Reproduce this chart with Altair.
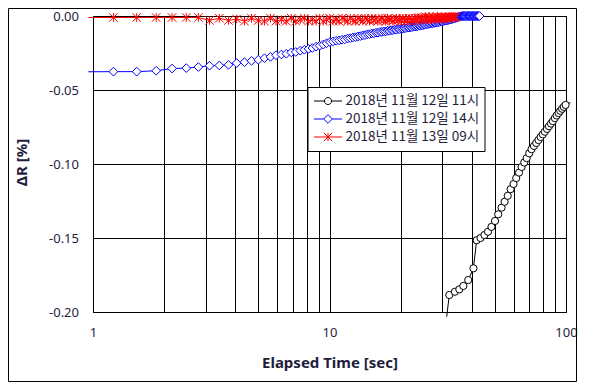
import altair as alt
import pandas as pd

SERIES = ["2018년 11월 12일 11시", "2018년 11월 12일 14시", "2018년 11월 13일 09시"]
COLORS = ["#000000", "#0000ff", "#ff0000"]

# series 1 (black, circles)
black_t = [31.3, 32.1, 33.9, 35.4, 36.8, 38.6, 40.6,
           41.9, 43.5, 45.2, 46.8, 48.4, 50.1, 51.7, 53.4, 55.0,
           56.7, 58.3, 60.0, 61.6, 63.3, 64.9, 66.6, 68.2, 69.9, 71.5,
           73.2, 74.8, 76.5, 78.1, 79.8, 81.4, 83.1, 84.7, 86.4, 88.0,
           89.7, 91.3, 93.0, 94.6, 96.3, 97.9, 99.6, 104.5]
black_v = [-0.2032, -0.1885, -0.1863, -0.1847, -0.1824, -0.1784, -0.1705,
           -0.1515, -0.1500, -0.1480, -0.1458, -0.1425, -0.1385, -0.1340, -0.1295, -0.1255,
           -0.1215, -0.1170, -0.1135, -0.1095, -0.1058, -0.1020, -0.0990, -0.0960, -0.0928, -0.0900,
           -0.0878, -0.0858, -0.0838, -0.0818, -0.0800, -0.0782, -0.0763, -0.0745, -0.0727, -0.0710,
           -0.0690, -0.0672, -0.0656, -0.0641, -0.0627, -0.0614, -0.0601, -0.0585]

# shared sampling times of series 2 and 3
fast_t = [0.955,
          1.22, 1.53, 1.85, 2.16, 2.48, 2.79, 3.11, 3.42, 3.74, 4.05,
          4.37, 4.68, 5.00, 5.31, 5.63, 5.94, 6.26, 6.57, 6.89, 7.20,
          7.52, 7.83, 8.15, 8.46, 8.78, 9.09, 9.41, 9.72, 10.04, 10.35,
          10.67, 10.98, 11.30, 11.61, 11.93, 12.24, 12.56, 12.87, 13.19, 13.50,
          13.82, 14.13, 14.45, 14.76, 15.08, 15.39, 15.71, 16.02, 16.34, 16.65,
          16.97, 17.28, 17.60, 17.91, 18.23, 18.54, 18.86, 19.17, 19.49, 19.80,
          20.12, 20.43, 20.75, 21.06, 21.38, 21.69, 22.01, 22.32, 22.64, 22.95,
          23.27, 23.58, 23.90, 24.21, 24.53, 24.84, 25.16, 25.47, 25.79, 26.10,
          26.42, 26.73, 27.05, 27.36, 27.68, 27.99, 28.31, 28.62, 28.94, 29.25,
          29.57, 29.88, 30.20, 30.51, 30.83, 31.14, 31.46, 31.77, 32.09, 32.40,
          32.72, 33.03, 33.35, 33.66, 33.98, 34.29, 34.61, 34.92, 35.24, 35.55,
          35.87, 36.18, 36.50, 36.81, 37.13, 37.44, 37.76, 38.07, 38.39, 38.70,
          39.02, 39.33, 39.65, 39.96, 40.28, 40.59, 40.91, 41.22, 41.54, 41.85,
          42.17, 42.48, 42.80, 43.11]

blue_v = [-0.0377,
          -0.0376, -0.0376, -0.0370, -0.0355, -0.0352, -0.0345, -0.0336, -0.0334, -0.0330, -0.0318,
          -0.0312, -0.0303, -0.0296, -0.0285, -0.0276, -0.0265, -0.0260, -0.0255, -0.0246, -0.0243,
          -0.0234, -0.0228, -0.0222, -0.0216, -0.0207, -0.0201, -0.0193, -0.0184, -0.0176, -0.0172,
          -0.0167, -0.0165, -0.0160, -0.0158, -0.0152, -0.0150, -0.0145, -0.0143, -0.0138, -0.0136,
          -0.0131, -0.0129, -0.0124, -0.0123, -0.0118, -0.0118, -0.0113, -0.0113, -0.0108, -0.0108,
          -0.0104, -0.0104, -0.0100, -0.0100, -0.0096, -0.0096, -0.0092, -0.0093, -0.0088, -0.0089,
          -0.0085, -0.0085, -0.0082, -0.0082, -0.0078, -0.0079, -0.0075, -0.0076, -0.0072, -0.0072,
          -0.0069, -0.0069, -0.0065, -0.0066, -0.0062, -0.0062, -0.0059, -0.0059, -0.0055, -0.0055,
          -0.0052, -0.0052, -0.0049, -0.0049, -0.0046, -0.0046, -0.0043, -0.0043, -0.0040, -0.0040,
          -0.0037, -0.0037, -0.0034, -0.0034, -0.0031, -0.0031, -0.0028, -0.0028, -0.0025, -0.0025,
          -0.0022, -0.0021, -0.0018, -0.0017, -0.0014, -0.0013, -0.0010, -0.0008, -0.0006, -0.0004,
          -0.0002, -0.0001, 0.0, 0.0, 0.0, 0.0, 0.0, 0.0, 0.0, 0.0,
          0.0, 0.0, 0.0, 0.0, 0.0, 0.0, 0.0, 0.0, 0.0, 0.0,
          0.0, 0.0, 0.0, 0.0]

red_v = [-0.0010,
         -0.0010, -0.0010, -0.0010, -0.0010, -0.0010, -0.0010, -0.0030, -0.0015, -0.0030, -0.0020,
         -0.0035, -0.0015, -0.0030, -0.0035, -0.0015, -0.0035, -0.0025, -0.0035, -0.0015, -0.0035,
         -0.0025, -0.0015, -0.0035, -0.0025, -0.0035, -0.0015, -0.0035, -0.0025, -0.0015, -0.0035,
         -0.0025, -0.0035, -0.0015, -0.0025, -0.0035, -0.0015, -0.0030, -0.0035, -0.0015, -0.0025,
         -0.0035, -0.0015, -0.0025, -0.0035, -0.0015, -0.0030, -0.0020, -0.0035, -0.0025, -0.0015,
         -0.0030, -0.0035, -0.0015, -0.0025, -0.0020, -0.0035, -0.0025, -0.0015, -0.0030, -0.0020,
         -0.0035, -0.0015, -0.0030, -0.0020, -0.0030, -0.0015, -0.0030, -0.0020, -0.0030, -0.0015,
         -0.0030, -0.0015, -0.0010, -0.0025, -0.0015, -0.0025, -0.0010, -0.0005, -0.0025, -0.0015,
         -0.0005, -0.0015, -0.0025, -0.0005, -0.0020, -0.0010, -0.0020, -0.0005, -0.0015, -0.0010,
         -0.0020, -0.0005, -0.0015, -0.0010, -0.0005, -0.0010, -0.0020, -0.0010, -0.0005, -0.0010,
         -0.0005, -0.0010, -0.0005, -0.0010, -0.0005, -0.0005]

X_GRID = [1, 2, 3, 4, 5, 6, 7, 8, 9, 10, 20, 30, 40, 50, 60, 70, 80, 90, 100]
Y_TICKS = [-0.2, -0.15, -0.1, -0.05, 0.0]

assert len(black_t) == len(black_v)
assert len(fast_t) == len(blue_v)

df_black = pd.DataFrame({"t": black_t, "v": black_v, "series": SERIES[0]})
df_blue = pd.DataFrame({"t": fast_t, "v": blue_v, "series": SERIES[1]})
df_red = pd.DataFrame({"t": fast_t[:len(red_v)], "v": red_v, "series": SERIES[2]})
df_all = pd.concat([df_black, df_blue, df_red], ignore_index=True)

FONT = "Noto Sans"
TXT = "#1e1e3c"

STAR = "M-1,-1L1,1M-1,1L1,-1M0,-1L0,1"
LEG_PATHS = [
    "M-1,0L-0.25,0M0.25,0L1,0M0.25,0A0.25,0.25,0,1,1,-0.25,0A0.25,0.25,0,1,1,0.25,0Z",
    "M-1,0L-0.31,0M0.31,0L1,0M-0.31,0L0,-0.31L0.31,0L0,0.31Z",
    "M-1,0L1,0M-0.29,-0.29L0.29,0.29M-0.29,0.29L0.29,-0.29M0,-0.29L0,0.29",
]

x_enc = alt.X(
    "t:Q",
    scale=alt.Scale(type="log", domain=[1, 100], nice=False),
    axis=alt.Axis(
        title="Elapsed Time [sec]", values=X_GRID,
        labelExpr="datum.value == 1 ? '1' : datum.value == 10 ? '10' : datum.value == 100 ? '100' : ''",
        grid=True, gridColor="black", gridOpacity=1, gridWidth=1,
        ticks=False, tickSize=0, domain=False, labelPadding=14.5, labelFlush=False,
        labelOverlap=False, labelFont=FONT, labelFontSize=13, labelColor=TXT,
        titleFont=FONT, titleFontSize=15, titleFontWeight="bold", titleColor=TXT,
        titleY=50, titleBaseline="middle",
    ),
)
y_enc = alt.Y(
    "v:Q",
    scale=alt.Scale(domain=[-0.2, 0], nice=False, zero=False),
    axis=alt.Axis(
        title="ΔR [%]", values=Y_TICKS,
        labelExpr="datum.value == 0 ? '0.00' : '-' + format(-datum.value, '.2f')",
        grid=True, gridColor="black", gridOpacity=1, gridWidth=1,
        ticks=False, tickSize=0, domain=False, labelPadding=14.5,
        labelOverlap=False, labelFont=FONT, labelFontSize=13, labelColor=TXT,
        titleFont=FONT, titleFontSize=15, titleFontWeight="bold", titleColor=TXT,
        titleAngle=270, titleX=-72, titleY=146, titleAlign="center", titleBaseline="middle",
    ),
)

border = alt.Chart(pd.DataFrame({"k": [0]})).mark_rect(
    fill="transparent", stroke="black", strokeWidth=1
).encode(x=alt.value(-84.5), x2=alt.value(483.5), y=alt.value(-7.5), y2=alt.value(365.5))


def line(df, color):
    return alt.Chart(df).mark_line(color=color, strokeWidth=1, clip=False).encode(x=x_enc, y=y_enc)


black_line = line(df_black, COLORS[0])
black_pts = alt.Chart(df_black).mark_point(
    shape="circle", size=52, filled=True, fill="white", stroke=COLORS[0], strokeWidth=1, opacity=1
).encode(x=x_enc, y=y_enc).transform_filter("datum.t <= 100 && datum.v >= -0.2")

blue_line = line(df_blue, COLORS[1])
blue_pts = alt.Chart(df_blue).mark_point(
    shape="diamond", size=76, filled=True, fill="white", stroke=COLORS[1], strokeWidth=1, opacity=1
).encode(x=x_enc, y=y_enc).transform_filter("datum.t >= 1")

red_line = line(df_red, COLORS[2])
red_pts = alt.Chart(df_red).mark_point(
    shape=STAR, size=72, filled=False, fill="transparent", stroke=COLORS[2], strokeWidth=1, opacity=1
).encode(x=x_enc, y=y_enc).transform_filter("datum.t >= 1")

leg = alt.Legend(
    title=None, orient="none", legendX=214.5, legendY=71,
    padding=5, clipHeight=18, rowPadding=0,
    symbolSize=784, symbolStrokeWidth=1, symbolOpacity=1, symbolFillColor="white",
    symbolOffset=1, labelOffset=3,
    labelFont="Noto Sans CJK KR", labelFontSize=13.5, labelColor=TXT, labelLimit=400,
    strokeColor="black", fillColor="white", cornerRadius=0,
)
legend_layer = alt.Chart(df_all).mark_point(
    filled=False, fill="white", opacity=0, strokeWidth=1
).encode(
    x=x_enc, y=y_enc,
    color=alt.Color("series:N", scale=alt.Scale(domain=SERIES, range=COLORS), legend=leg),
    shape=alt.Shape("series:N", scale=alt.Scale(domain=SERIES, range=LEG_PATHS), legend=leg),
)

chart = alt.layer(
    border, black_line, black_pts, blue_line, blue_pts, red_line, red_pts, legend_layer
).properties(
    width=473, height=296,
    padding={"left": 85, "top": 8, "right": 12, "bottom": 71},
    autosize=alt.AutoSizeParams(type="none"),
    background="white",
).configure_view(stroke="black", strokeWidth=1)

chart.save("out.html", embed_options={"renderer": "svg", "actions": False})
